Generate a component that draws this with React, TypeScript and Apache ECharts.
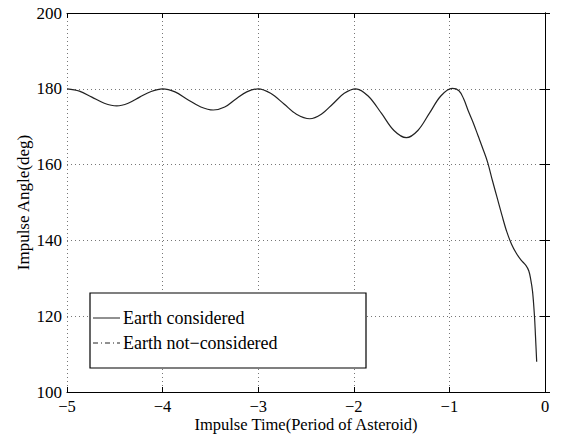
import React, { useEffect, useRef } from "react";
import * as echarts from "echarts";

const impulseTime = [
  -5.0, -4.87, -4.74, -4.61, -4.48, -4.36, -4.24, -4.12, -4.0,
  -3.87, -3.74, -3.6, -3.47, -3.35, -3.24, -3.12, -3.0,
  -2.87, -2.73, -2.6, -2.46, -2.34, -2.22, -2.1, -1.98,
  -1.85, -1.71, -1.58, -1.45, -1.33, -1.21, -1.09, -0.97,
  -0.9, -0.85, -0.8, -0.75, -0.7, -0.65, -0.6, -0.55, -0.5, -0.45, -0.4,
  -0.35, -0.3, -0.25, -0.2, -0.17, -0.15, -0.13, -0.11, -0.1, -0.087,
];
const angleEarth = [
  180.0, 179.4, 177.8, 176.2, 175.5, 176.2, 177.8, 179.3, 180.0,
  179.2, 177.2, 175.2, 174.4, 175.2, 177.2, 179.2, 180.0,
  178.8, 176.0, 173.3, 172.1, 173.3, 176.0, 178.8, 180.0,
  178.1, 173.5, 169.0, 167.1, 169.0, 173.5, 178.1, 180.1,
  179.5, 177.3, 174.0, 171.0, 167.6, 164.2, 160.6, 155.8, 151.2, 146.6, 142.3,
  139.0, 136.6, 134.8, 133.4, 132.0, 129.8, 126.5, 120.0, 115.0, 108.0,
];
const seriesNames = ["Earth considered", "Earth not\u2212considered"];
const xTicks = { min: -5, max: 0, interval: 1 };
const yTicks = { min: 100, max: 200, interval: 20 };

const FONT = "Liberation Serif, Times New Roman, serif";

export default function App() {
  const ref = useRef<HTMLDivElement>(null);
  useEffect(() => {
    document.body.style.margin = "0";
    const chart = echarts.init(ref.current!, null, { renderer: "svg" });
    const fmt = (v: number) => String(v).replace("-", "\u2212");
    const axisLine = { show: true, lineStyle: { color: "#000", width: 1 } };
    const tick = { show: true, inside: true, length: 5, lineStyle: { color: "#000" } };
    const split = { show: true, lineStyle: { color: "#777", type: [1, 3] as any, width: 1 } };
    const legendX = 90;
    const legendY = 293;
    chart.setOption({
      animation: false,
      backgroundColor: "#fff",
      grid: { left: 67, right: 18, top: 13, bottom: 42, outerBoundsMode: "none", containLabel: false },
      xAxis: [
        {
          type: "value",
          ...xTicks,
          position: "bottom",
          name: "Impulse Time(Period of Asteroid)",
          nameLocation: "middle",
          nameGap: 23,
          nameMoveOverlap: false,
          nameTextStyle: { fontFamily: FONT, fontSize: 16.5, color: "#000", lineHeight: 18 },
          axisLine,
          axisTick: tick,
          splitLine: split,
          axisLabel: { formatter: fmt, fontFamily: FONT, fontSize: 16.5, color: "#000", margin: 6, lineHeight: 17 },
        },
        {
          type: "value",
          ...xTicks,
          position: "top",
          axisLine,
          axisTick: tick,
          splitLine: { show: false },
          axisLabel: { show: false },
        },
      ],
      yAxis: [
        {
          type: "value",
          ...yTicks,
          position: "left",
          name: "Impulse Angle(deg)",
          nameLocation: "middle",
          nameGap: 35,
          nameMoveOverlap: false,
          nameTextStyle: { fontFamily: FONT, fontSize: 17, color: "#000" },
          axisLine,
          axisTick: tick,
          splitLine: split,
          axisLabel: { fontFamily: FONT, fontSize: 17, color: "#000", margin: 5 },
        },
        {
          type: "value",
          ...yTicks,
          position: "right",
          axisLine,
          axisTick: tick,
          splitLine: { show: false },
          axisLabel: { show: false },
        },
      ],
      series: [
        {
          name: seriesNames[0],
          type: "line",
          symbol: "none",
          smooth: 0.35,
          lineStyle: { color: "#222", width: 1.2 },
          data: impulseTime.map((t, i) => [t, angleEarth[i]]),
        },
      ],
      graphic: [
        {
          type: "rect",
          z: 100,
          shape: { x: legendX, y: legendY, width: 276, height: 75 },
          style: { fill: "#fff", stroke: "#000", lineWidth: 1.2 },
        },
        {
          type: "line",
          z: 101,
          shape: { x1: legendX + 3, y1: legendY + 25, x2: legendX + 30, y2: legendY + 25 },
          style: { stroke: "#222", lineWidth: 1 },
        },
        {
          type: "line",
          z: 101,
          shape: { x1: legendX + 3, y1: legendY + 50, x2: legendX + 30, y2: legendY + 50 },
          style: { stroke: "#222", lineWidth: 1, lineDash: [5, 3, 1, 3] },
        },
        {
          type: "text",
          z: 101,
          x: legendX + 33,
          y: legendY + 25,
          style: {
            text: seriesNames[0],
            fontFamily: FONT,
            fontSize: 18,
            fill: "#000",
            verticalAlign: "middle",
          },
        },
        {
          type: "text",
          z: 101,
          x: legendX + 33,
          y: legendY + 50,
          style: {
            text: seriesNames[1],
            fontFamily: FONT,
            fontSize: 18,
            fill: "#000",
            verticalAlign: "middle",
          },
        },
      ],
    });
    return () => chart.dispose();
  }, []);
  return <div ref={ref} style={{ width: 563, height: 434 }} />;
}
